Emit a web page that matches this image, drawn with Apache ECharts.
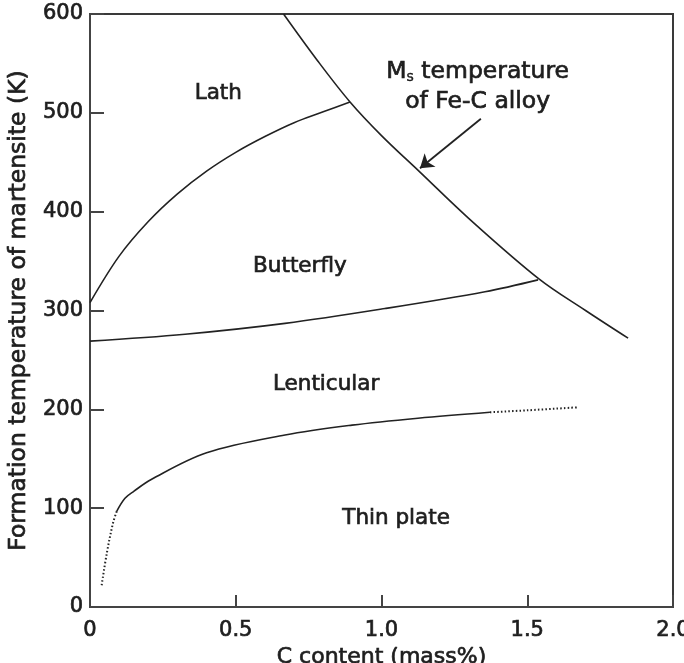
<!DOCTYPE html>
<html><head><meta charset="utf-8">
<script src="https://cdn.jsdelivr.net/npm/echarts@6/dist/echarts.min.js"></script>
<style>html,body{margin:0;padding:0;background:#fff}#c{width:684px;height:663px}</style>
</head><body><div id="c"></div>
<script>
// ---- data (x: C content mass%, y: temperature K) ----
const xTickValues = [0, 0.5, 1.0, 1.5, 2.0];
const yTickValues = [0, 100, 200, 300, 400, 500, 600];

const msCurveX = [0.664, 0.78, 0.892, 1.0, 1.132, 1.30, 1.54, 1.70, 1.846];
const msCurveY = [600, 553, 511, 477, 440, 393, 332, 300, 272];

const lathX = [0, 0.1, 0.2, 0.3, 0.4, 0.5, 0.6, 0.7, 0.8, 0.892];
const lathY = [308, 355, 390, 418, 441, 460, 476, 490, 501, 511];

const butterflyX = [0, 0.326, 0.669, 1.012, 1.355, 1.537];
const butterflyY = [269, 276, 287, 302, 319, 331];

const thinSolidX = [0.092, 0.12, 0.15, 0.21, 0.40, 0.669, 0.899, 1.125, 1.372];
const thinSolidY = [97, 110, 117, 129, 156, 174, 184, 191, 197];
const thinDotLowX = [0.040, 0.058, 0.079, 0.092];
const thinDotLowY = [22, 55, 85, 97];
const thinDotHighX = [1.372, 1.50, 1.671];
const thinDotHighY = [197, 199, 202];

const regionNames = ['Lath', 'Butterfly', 'Lenticular', 'Thin plate'];
const regionX = [0.44, 0.72, 0.81, 1.05];
const regionY = [520, 345, 225, 90];

const msLabelX = [1.33, 1.33];
const msLabelY = [541, 511];
const arrowFrom = [1.341, 494];
const arrowTo = [1.132, 444];

const xAxisTitle = 'C content (mass%)';
const yAxisTitle = 'Formation temperature of martensite (K)';

// ---- build ----
const zip = (xs, ys) => xs.map((x, i) => [x, ys[i]]);
const FONT = 'DejaVu Sans';
const TXT = '#1e1e1e';
const lineCol = '#222';
const bold = {textBorderColor: TXT, textBorderWidth: 0.7};

const chart = echarts.init(document.getElementById('c'), null, {renderer: 'canvas'});

const solid = (data) => ({
  type: 'line', data, smooth: 0.35, showSymbol: false, symbol: 'none', silent: true,
  lineStyle: {color: lineCol, width: 1.6}, z: 3
});
const dotted = (data) => ({
  type: 'line', data, smooth: 0.35, showSymbol: false, symbol: 'none', silent: true,
  lineStyle: {color: lineCol, width: 2, type: [1.5, 2.2]}, z: 3
});

const option = {
  animation: false,
  backgroundColor: '#fff',
  grid: {left: 90, right: 11, top: 14, bottom: 56, outerBoundsMode: 'none', containLabel: false,
    show: true, borderColor: '#3a3a3a', borderWidth: 2, backgroundColor: 'transparent'},
  xAxis: {
    type: 'value', min: 0, max: 2, interval: 0.5,
    name: xAxisTitle, nameLocation: 'middle', nameGap: 35,
    nameTextStyle: Object.assign({fontFamily: FONT, fontSize: 22, color: TXT}, bold),
    axisLine: {show: true, lineStyle: {color: '#444', width: 2}},
    axisTick: {show: true, inside: true, length: 12, lineStyle: {color: '#444', width: 2}},
    axisLabel: Object.assign({margin: 13, fontFamily: FONT, fontSize: 21, color: TXT,
      formatter: v => v === 0 ? '0' : v.toFixed(1)}, bold),
    splitLine: {show: false}
  },
  yAxis: {
    type: 'value', min: 0, max: 600, interval: 100,
    name: yAxisTitle, nameLocation: 'middle', nameGap: 49,
    nameTextStyle: Object.assign({fontFamily: FONT, fontSize: 23.5, color: TXT}, bold),
    axisLine: {show: true, lineStyle: {color: '#444', width: 2}},
    axisTick: {show: true, inside: true, length: 14, lineStyle: {color: '#444', width: 2}},
    axisLabel: Object.assign({margin: 7, fontFamily: FONT, fontSize: 21, color: TXT}, bold),
    splitLine: {show: false}
  },
  series: [
    solid(zip(msCurveX, msCurveY)),
    solid(zip(lathX, lathY)),
    solid(zip(butterflyX, butterflyY)),
    solid(zip(thinSolidX, thinSolidY)),
    dotted(zip(thinDotLowX, thinDotLowY)),
    dotted(zip(thinDotHighX, thinDotHighY)),
    {
      type: 'scatter', symbolSize: 0, silent: true, z: 5,
      itemStyle: {opacity: 1},
      data: regionNames.map((n, i) => ({name: n, value: [regionX[i], regionY[i]]})),
      label: Object.assign({show: true, position: 'inside', formatter: p => p.name, opacity: 1,
        fontFamily: FONT, fontSize: 21.5, color: TXT}, bold),
      markLine: {
        silent: true, symbol: ['none', 'arrow'], symbolSize: 13,
        label: {show: false},
        lineStyle: {color: lineCol, width: 1.8, type: 'solid', opacity: 1},
        data: [[{coord: arrowFrom}, {coord: arrowTo}]]
      }
    },
    {
      type: 'scatter', symbolSize: 0, silent: true, z: 5,
      itemStyle: {opacity: 1},
      data: [
        {value: [msLabelX[0], msLabelY[0]], label: {formatter: '{a|M}{s|s}{a| temperature}'}},
        {value: [msLabelX[1], msLabelY[1]], label: {formatter: '{a|of Fe-C alloy}'}}
      ],
      label: {show: true, position: 'inside', opacity: 1,
        rich: {
          a: Object.assign({fontFamily: FONT, fontSize: 23.5, color: TXT}, bold),
          s: Object.assign({fontFamily: FONT, fontSize: 14, color: TXT, padding: [10, 0, 0, 0], verticalAlign: 'bottom'}, {textBorderColor: TXT, textBorderWidth: 0.4})
        }}
    }
  ]
};
chart.setOption(option);
</script>
</body></html>
